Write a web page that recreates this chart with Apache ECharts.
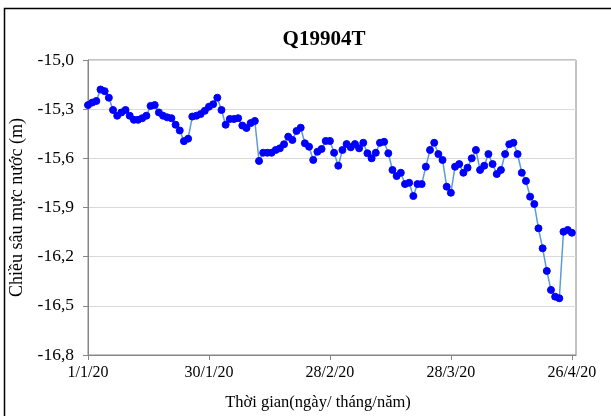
<!DOCTYPE html>
<html>
<head>
<meta charset="utf-8">
<script src="https://cdn.jsdelivr.net/npm/echarts@6/dist/echarts.min.js"></script>
<style>html,body{margin:0;padding:0;background:#fff;}#c{width:611px;height:416px;}</style>
</head>
<body>
<div id="c"></div>
<script>
const chartTitle = 'Q19904T';
const yName = 'Chiều sâu mực nước (m)';
const xName = 'Thời gian(ngày/ tháng/năm)';
const startDate = '2020-01-01';
const dayCount = 118; // 1/1/2020 .. 27/4/2020
const yTicks = [-16.8, -16.5, -16.2, -15.9, -15.6, -15.3, -15.0];
const levels = [
  -15.275, -15.26, -15.25, -15.18, -15.19, -15.23, -15.305, -15.34, -15.32, -15.305,
  -15.34, -15.365, -15.365, -15.355, -15.34, -15.28, -15.275, -15.32, -15.34, -15.35,
  -15.355, -15.395, -15.43, -15.495, -15.48, -15.345, -15.34, -15.33, -15.31, -15.285,
  -15.27, -15.23, -15.305, -15.395, -15.36, -15.36, -15.355, -15.40, -15.415, -15.385,
  -15.372, -15.616, -15.566, -15.566, -15.566, -15.549, -15.539, -15.514, -15.468, -15.488,
  -15.433, -15.413, -15.508, -15.529, -15.61, -15.56, -15.543, -15.494, -15.494, -15.566,
  -15.645, -15.549, -15.513, -15.533, -15.513, -15.539, -15.505, -15.569, -15.60, -15.566,
  -15.505, -15.499, -15.569, -15.671, -15.708, -15.688, -15.757, -15.749, -15.83, -15.757,
  -15.757, -15.651, -15.549, -15.505, -15.574, -15.61, -15.773, -15.81, -15.651, -15.635,
  -15.688, -15.657, -15.60, -15.549, -15.671, -15.645, -15.574, -15.635, -15.696, -15.671,
  -15.574, -15.514, -15.505, -15.574, -15.688, -15.738, -15.834, -15.879, -16.027, -16.149,
  -16.287, -16.403, -16.444, -16.454, -16.048, -16.037, -16.054
];

const dates = [];
const d0 = new Date(startDate + 'T00:00:00Z');
for (let i = 0; i < dayCount; i++) {
  const d = new Date(d0.getTime() + i * 86400000);
  dates.push(d.getUTCDate() + '/' + (d.getUTCMonth() + 1) + '/' + String(d.getUTCFullYear()).slice(2));
}

const serif = '"Liberation Serif", "Times New Roman", serif';
const chart = echarts.init(document.getElementById('c'), null, {renderer: 'canvas'});
chart.setOption({
  animation: false,
  backgroundColor: '#ffffff',
  title: {
    text: chartTitle, left: 319, top: 24, textAlign: 'center',
    textStyle: {fontFamily: serif, fontSize: 21, fontWeight: 'bold', color: '#000'}
  },
  grid: {left: 88, right: 35, top: 60, bottom: 61, show: true, borderColor: '#868686', borderWidth: 1},
  xAxis: {
    type: 'category', data: dates, boundaryGap: false,
    name: xName, nameLocation: 'middle', nameGap: 39,
    nameTextStyle: {fontFamily: serif, fontSize: 16.5, color: '#000', padding: [0, 28, 0, 0]},
    axisLine: {onZero: false, lineStyle: {color: '#868686', width: 1}},
    axisTick: {show: true, interval: (i) => i % 29 === 0, length: 5, lineStyle: {color: '#868686'}},
    axisLabel: {interval: (i) => i % 29 === 0, margin: 10, fontFamily: serif, fontSize: 16, color: '#000'},
    splitLine: {show: false}
  },
  yAxis: {
    type: 'value', min: yTicks[0], max: yTicks[yTicks.length - 1], interval: 0.3,
    name: yName, nameLocation: 'middle', nameGap: 59, nameRotate: 90,
    nameTextStyle: {fontFamily: serif, fontSize: 18, color: '#000'},
    axisLine: {show: true, lineStyle: {color: '#868686', width: 1}},
    axisTick: {show: true, length: 5, lineStyle: {color: '#868686'}},
    axisLabel: {margin: 14, fontFamily: serif, fontSize: 17.5, color: '#000',
      formatter: (v) => v.toFixed(1).replace('.', ',')},
    splitLine: {show: true, lineStyle: {color: '#d9d9d9', width: 1}}
  },
  series: [{
    type: 'line', data: levels,
    symbol: 'circle', symbolSize: 7, showAllSymbol: true,
    lineStyle: {color: '#5b9bd5', width: 1.5},
    itemStyle: {color: '#0000ff', borderColor: '#0000ff'}
  }],
  graphic: [{
    type: 'rect', shape: {x: 4.5, y: 8.5, width: 640, height: 440},
    style: {fill: 'none', stroke: '#000', lineWidth: 1.5}, silent: true
  }]
});
</script>
</body>
</html>
